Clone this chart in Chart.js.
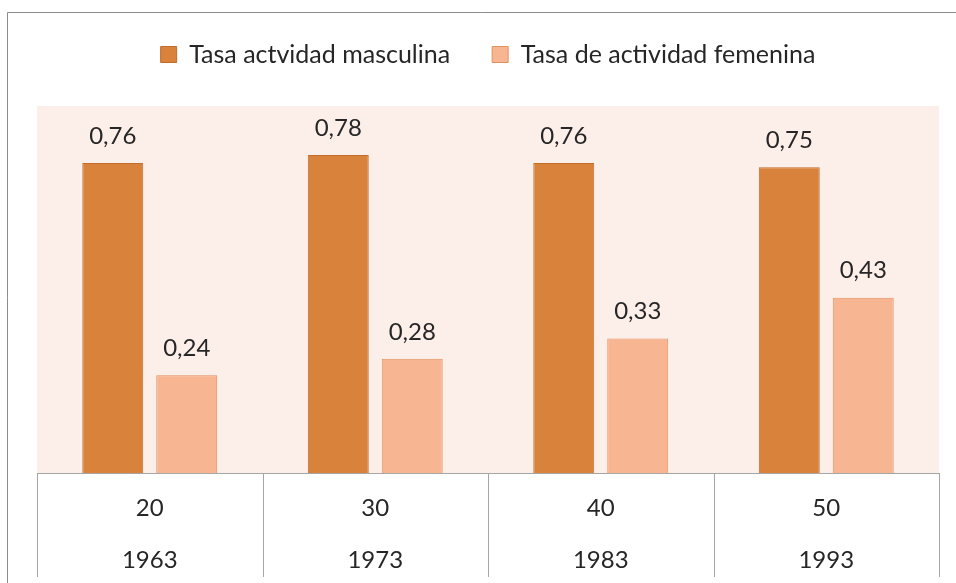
<!DOCTYPE html>
<html>
<head>
<meta charset="utf-8">
<script src="https://cdn.jsdelivr.net/npm/chart.js@4.4.0/dist/chart.umd.min.js"></script>
<style>
    html, body { margin: 0; padding: 0; background: #ffffff; }
    #wrap { width: 956px; height: 583px; position: relative; }
</style>
</head>
<body>
<div id="wrap"><canvas id="tasas" width="956" height="583"></canvas></div>
<script>
"use strict";

// Data
const edades = ["20", "30", "40", "50"];
const anios = ["1963", "1973", "1983", "1993"];
const tasaMasculina = [0.76, 0.78, 0.76, 0.75];
const tasaFemenina = [0.24, 0.28, 0.33, 0.43];
const nombresSeries = ["Tasa actvidad masculina", "Tasa de actividad femenina"];

const fuente = "Lato, 'Open Sans', sans-serif";
const colorTexto = "#262626";
const colorLinea = "#a6a6a6";

// Labels like "20" over "1963"
let xlabels = [];
for (let i = 0; i < edades.length; i++) {
    xlabels.push([edades[i], anios[i]]);
}

// Background of the plot, frame and the table under the bars
const decoracion = {
    id: "decoracion",
    beforeDraw(chart) {
        const ctx = chart.ctx;
        ctx.save();
        ctx.strokeStyle = "#8c8c8c";
        ctx.lineWidth = 1;
        ctx.beginPath();
        ctx.moveTo(7.5, chart.height);
        ctx.lineTo(7.5, 12.5);
        ctx.lineTo(chart.width, 12.5);
        ctx.stroke();
        ctx.restore();
    },
    beforeDatasetsDraw(chart) {
        const a = chart.chartArea;
        const ctx = chart.ctx;
        ctx.save();
        ctx.fillStyle = "#fcefea";
        ctx.fillRect(a.left, a.top, a.right - a.left, a.bottom - a.top);
        ctx.restore();
    },
    afterDraw(chart) {
        const a = chart.chartArea;
        const x = chart.scales.x;
        const ctx = chart.ctx;
        const bottom = 577;
        ctx.save();
        ctx.strokeStyle = colorLinea;
        ctx.lineWidth = 1;
        ctx.beginPath();
        ctx.moveTo(a.left, a.bottom + 0.5);
        ctx.lineTo(a.right, a.bottom + 0.5);
        // vertical lines between the categories
        let bordes = [a.left];
        for (let i = 1; i < xlabels.length; i++) {
            bordes.push((x.getPixelForValue(i - 1) + x.getPixelForValue(i)) / 2);
        }
        bordes.push(a.right);
        for (let i = 0; i < bordes.length; i++) {
            const bx = Math.round(bordes[i]) + 0.5;
            ctx.moveTo(bx, a.bottom);
            ctx.lineTo(bx, bottom);
        }
        ctx.stroke();
        ctx.restore();
    },
    afterDatasetsDraw(chart) {
        const ctx = chart.ctx;
        ctx.save();
        ctx.font = "24px " + fuente;
        ctx.fillStyle = colorTexto;
        ctx.textAlign = "center";
        ctx.textBaseline = "middle";
        chart.data.datasets.forEach(function (ds, d) {
            const meta = chart.getDatasetMeta(d);
            meta.data.forEach(function (bar, i) {
                const txt = ds.data[i].toFixed(2).replace(".", ",");
                ctx.fillText(txt, bar.x, bar.y - 27);
            });
        });
        ctx.restore();
    }
};

let grafico = new Chart(document.getElementById("tasas").getContext("2d"), {
    type: "bar",
    data: {
        labels: xlabels,
        datasets: [{
            label: nombresSeries[0],
            data: tasaMasculina,
            backgroundColor: "#d9823b",
            borderColor: "#c06d2c",
            borderWidth: 1,
            barPercentage: 0.824,
            categoryPercentage: 0.656
        }, {
            label: nombresSeries[1],
            data: tasaFemenina,
            backgroundColor: "#f8b591",
            borderColor: "#e0915f",
            borderWidth: 1,
            barPercentage: 0.824,
            categoryPercentage: 0.656
        }]
    },
    options: {
        responsive: false,
        animation: false,
        layout: {
            padding: { left: 37, right: 17, top: 0, bottom: 0 }
        },
        plugins: {
            legend: {
                position: "top",
                weight: 3000,
                labels: {
                    boxWidth: 16,
                    boxHeight: 16,
                    padding: 42,
                    color: colorTexto,
                    font: { family: fuente, size: 25 }
                }
            },
            // empty title, only keeps the space between legend and plot
            title: {
                display: true,
                text: "",
                font: { size: 10 },
                padding: { top: 0, bottom: 17 }
            },
            tooltip: { enabled: false }
        },
        scales: {
            x: {
                grid: { display: false },
                border: { display: false },
                ticks: {
                    color: colorTexto,
                    padding: 1,
                    maxRotation: 0,
                    font: { family: fuente, size: 24, lineHeight: 52 / 24 }
                },
                afterFit(scale) {
                    scale.height = 110;
                }
            },
            y: {
                display: false,
                min: 0,
                max: 0.9
            }
        }
    },
    plugins: [decoracion]
});
</script>
</body>
</html>
